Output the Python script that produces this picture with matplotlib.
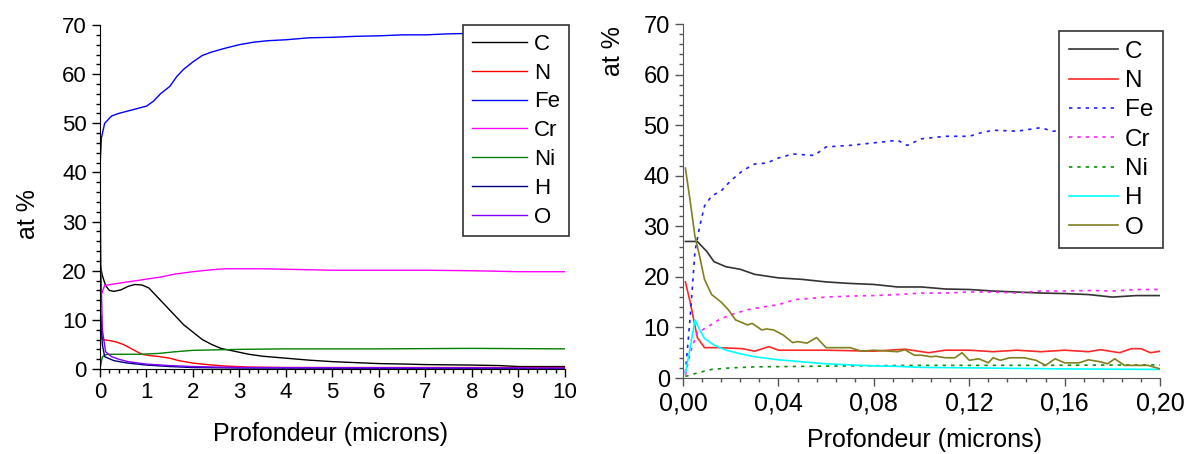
import matplotlib
matplotlib.use("Agg")
import matplotlib.pyplot as plt
from matplotlib.ticker import MultipleLocator, FuncFormatter

plt.rcParams['font.family'] = ['Liberation Sans', 'DejaVu Sans']

# ---- left panel: 0-10 microns ----
fe_x = [0.0, 0.03, 0.1, 0.25, 0.4, 0.6, 0.8, 1.0, 1.15, 1.3, 1.5, 1.65, 1.8, 2.0, 2.2, 2.4,
        2.7, 3.0, 3.3, 3.6, 4.0, 4.5, 5.0, 5.5, 6.0, 6.5, 7.0, 7.5, 8.0, 9.0, 10.0]
fe_y = [41, 47, 50, 51.5, 52, 52.5, 53, 53.5, 54.5, 56, 57.5, 59.5, 61, 62.5, 63.8, 64.5,
        65.3, 66, 66.5, 66.8, 67, 67.4, 67.5, 67.7, 67.8, 68, 68, 68.2, 68.3, 68.5, 68.6]

cr_x = [0.0, 0.02, 0.1, 0.3, 0.5, 0.8, 1.0, 1.3, 1.6, 2.0, 2.4, 2.7, 3.5, 4.0, 5.0, 6.0,
        7.0, 8.0, 9.0, 10.0]
cr_y = [10, 15, 17, 17.3, 17.6, 18, 18.3, 18.7, 19.3, 19.8, 20.2, 20.4, 20.4, 20.3, 20.1,
        20.1, 20.1, 20.0, 19.8, 19.8]

c_x = [0.0, 0.05, 0.12, 0.2, 0.3, 0.45, 0.6, 0.75, 0.9, 1.05, 1.2, 1.4, 1.6, 1.8, 2.0, 2.2,
       2.4, 2.6, 2.9, 3.2, 3.5, 4.0, 4.5, 5.0, 5.5, 6.0, 6.6, 7.0, 8.0, 8.6, 9.0, 10.0]
c_y = [21.5, 19, 17, 16, 15.8, 16.1, 16.8, 17.2, 17.1, 16.5, 15, 13, 11, 9, 7.5, 6,
       5, 4.2, 3.6, 3, 2.6, 2.2, 1.8, 1.5, 1.3, 1.1, 1.0, 0.9, 0.8, 0.7, 0.5, 0.5]

n_x = [0.0, 0.05, 0.2, 0.35, 0.5, 0.7, 0.9, 1.1, 1.3, 1.5, 1.7, 2.0, 2.3, 2.7, 3.2, 4.0, 10.0]
n_y = [8, 6, 5.8, 5.5, 5, 4, 3, 2.7, 2.5, 2.2, 1.7, 1.2, 0.9, 0.6, 0.4, 0.3, 0.3]

ni_x = [0.0, 0.05, 0.15, 0.9, 1.3, 1.6, 2.0, 2.5, 3.0, 4.0, 6.0, 8.0, 10.0]
ni_y = [0, 2.5, 3, 3, 3.2, 3.5, 3.8, 3.9, 4.0, 4.1, 4.1, 4.2, 4.1]

h_x = [0.0, 0.02, 0.05, 0.1, 0.3, 0.6, 1.0, 1.5, 2.0, 3.0, 10.0]
h_y = [4, 11, 5, 2.5, 1.7, 1.2, 0.8, 0.5, 0.3, 0.2, 0.1]

o_x = [0.0, 0.02, 0.05, 0.12, 0.25, 0.4, 0.6, 1.0, 1.5, 2.0, 3.0, 10.0]
o_y = [42, 20, 8, 3.5, 2.5, 2, 1.5, 1, 0.7, 0.5, 0.3, 0.2]

# ---- right panel: 0-0.20 microns ----
rc_x = [0.001, 0.006, 0.01, 0.013, 0.018, 0.024, 0.03, 0.04, 0.05, 0.06, 0.07, 0.08, 0.09,
        0.1, 0.11, 0.12, 0.13, 0.14, 0.15, 0.16, 0.17, 0.18, 0.19, 0.2]
rc_y = [27, 27, 25, 23, 22, 21.5, 20.5, 19.8, 19.5, 19, 18.7, 18.5, 18, 18, 17.6, 17.5,
        17.2, 17, 16.8, 16.7, 16.5, 16, 16.3, 16.3]

rn_x = [0.001, 0.003, 0.006, 0.009, 0.015, 0.025, 0.03, 0.036, 0.04, 0.06, 0.08, 0.093,
        0.103, 0.11, 0.12, 0.13, 0.14, 0.15, 0.16, 0.17, 0.175, 0.183, 0.188, 0.192, 0.196, 0.2]
rn_y = [19, 15, 8, 6, 6, 5.8, 5.3, 6.2, 5.5, 5.5, 5.3, 5.7, 5, 5.5, 5.5, 5.2, 5.5, 5.2,
        5.5, 5.2, 5.6, 5, 5.8, 5.8, 5, 5.3]

rfe_x = [0.001, 0.003, 0.005, 0.007, 0.009, 0.012, 0.016, 0.02, 0.025, 0.03, 0.035, 0.04,
         0.046, 0.055, 0.06, 0.07, 0.08, 0.09, 0.094, 0.1, 0.11, 0.12, 0.125, 0.13, 0.14,
         0.15, 0.155, 0.17, 0.2]
rfe_y = [1, 12, 25, 30, 34, 36, 37, 39, 41, 42.3, 42.5, 43.5, 44.3, 44, 45.7, 46, 46.5,
         47, 46, 47.3, 47.8, 47.8, 48.5, 49, 48.8, 49.5, 48.8, 49.5, 50]

rcr_x = [0.001, 0.003, 0.006, 0.01, 0.015, 0.02, 0.027, 0.033, 0.04, 0.047, 0.055, 0.06,
         0.07, 0.08, 0.09, 0.1, 0.11, 0.12, 0.13, 0.14, 0.15, 0.16, 0.17, 0.18, 0.19, 0.2]
rcr_y = [0.5, 5, 9, 10, 11.5, 12.5, 13.5, 14, 14.5, 15.5, 15.8, 16, 16.2, 16.3, 16.5, 16.8,
         16.8, 17, 17, 16.8, 17.2, 17.2, 17.3, 17.2, 17.5, 17.5]

rni_x = [0.001, 0.006, 0.012, 0.02, 0.03, 0.05, 0.07, 0.1, 0.15, 0.2]
rni_y = [0.3, 1, 1.7, 2, 2.2, 2.3, 2.4, 2.5, 2.5, 2.6]

rh_x = [0.001, 0.003, 0.005, 0.007, 0.009, 0.013, 0.018, 0.024, 0.03, 0.04, 0.05, 0.06,
        0.07, 0.08, 0.09, 0.1, 0.12, 0.14, 0.16, 0.2]
rh_y = [1, 6, 11.5, 9.5, 7.8, 6.5, 5.5, 4.8, 4.2, 3.6, 3.2, 2.8, 2.6, 2.4, 2.3, 2.1, 2,
        1.9, 1.8, 1.7]

ro_x = [0.001, 0.003, 0.005, 0.007, 0.009, 0.012, 0.016, 0.019, 0.022, 0.027, 0.029, 0.033,
        0.035, 0.038, 0.042, 0.046, 0.048, 0.052, 0.056, 0.06, 0.07, 0.075, 0.08, 0.09,
        0.093, 0.097, 0.1, 0.104, 0.106, 0.11, 0.114, 0.117, 0.12, 0.124, 0.128, 0.13,
        0.133, 0.137, 0.143, 0.148, 0.152, 0.156, 0.16, 0.166, 0.17, 0.175, 0.178, 0.181,
        0.185, 0.19, 0.195, 0.2]
ro_y = [41.5, 35, 28, 24, 19.5, 16.5, 15, 13.5, 11.5, 10.5, 10.8, 9.5, 9.7, 9.5, 8.5, 7,
        7.2, 6.9, 8, 6, 6, 5.3, 5.5, 5.2, 5.6, 4.5, 4.5, 4.2, 4.3, 4, 4, 5, 3.5, 3.8, 3,
        4, 3.5, 4, 4, 3.5, 2.5, 3.8, 3, 3, 3.6, 3.2, 2.8, 3.8, 2.5, 2.5, 2.5, 1.8]

fig = plt.figure(figsize=(11.92, 4.54), dpi=100)
ax1 = fig.add_axes([0.0839, 0.1872, 0.390, 0.7577])
ax2 = fig.add_axes([0.573, 0.1674, 0.4002, 0.7797])

lw = 1.0
ax1.plot(c_x, c_y, color='black', lw=lw, label='C')
ax1.plot(n_x, n_y, color='#ff0000', lw=lw, label='N')
ax1.plot(fe_x, fe_y, color='#0000ff', lw=lw, label='Fe')
ax1.plot(cr_x, cr_y, color='#ff00ff', lw=lw, label='Cr')
ax1.plot(ni_x, ni_y, color='#008000', lw=lw, label='Ni')
ax1.plot(h_x, h_y, color='#000080', lw=lw, label='H')
ax1.plot(o_x, o_y, color='#8000ff', lw=lw, label='O')

lw2 = 1.2
dots = (0, (2, 3))
ax2.plot(rc_x, rc_y, color='#333333', lw=lw2, label='C')
ax2.plot(rn_x, rn_y, color='#ff2828', lw=lw2, label='N')
ax2.plot(rfe_x, rfe_y, color='#2020ff', lw=lw2, ls=dots, label='Fe')
ax2.plot(rcr_x, rcr_y, color='#ff20ff', lw=lw2, ls=dots, label='Cr')
ax2.plot(rni_x, rni_y, color='#109010', lw=lw2, ls=dots, label='Ni')
ax2.plot(rh_x, rh_y, color='#00ffff', lw=lw2, label='H')
ax2.plot(ro_x, ro_y, color='#808020', lw=lw2, label='O')

for ax, fs in ((ax1, 16), (ax2, 17)):
    ax.set_ylim(0, 70)
    ax.spines['top'].set_visible(False)
    ax.spines['right'].set_visible(False)
    ax.yaxis.set_major_locator(MultipleLocator(10))
    ax.yaxis.set_minor_locator(MultipleLocator(2))
    ax.tick_params(which='major', direction='out', length=6, width=1, labelsize=fs)
    ax.tick_params(which='minor', direction='out', length=3, width=1)
    ax.set_ylabel('at %', fontsize=18)
    ax.set_xlabel('Profondeur (microns)', fontsize=18)

ax1.set_xlim(0, 10)
ax1.xaxis.set_major_locator(MultipleLocator(1))
ax1.xaxis.set_minor_locator(MultipleLocator(0.2))
ax2.set_xlim(0, 0.2)
ax2.xaxis.set_major_locator(MultipleLocator(0.04))
ax2.xaxis.set_minor_locator(MultipleLocator(0.008))
ax2.xaxis.set_major_formatter(FuncFormatter(lambda v, p: f"{v:.2f}".replace('.', ',')))
ax2.tick_params(axis='x', which='major', labelsize=18)
for s in ('left', 'bottom'):
    ax2.spines[s].set_color('#555555')
ax2.tick_params(which='both', color='#555555')

ax1.yaxis.set_label_coords(-0.13, 0.45)
ax1.xaxis.set_label_coords(0.495, -0.155)
ax2.yaxis.set_label_coords(-0.122, 0.925)
ax2.xaxis.set_label_coords(0.507, -0.14)

leg_kw = dict(loc='upper right', frameon=True, fancybox=False, handletextpad=0.3,
              borderpad=0.4, borderaxespad=0)
leg1 = ax1.legend(bbox_to_anchor=(1.0086, 1.0), fontsize=16, handlelength=2.5,
                  labelspacing=0.35, **leg_kw)
leg2 = ax2.legend(bbox_to_anchor=(1.006, 0.980), fontsize=17.5, handlelength=2.0,
                  labelspacing=0.3, **leg_kw)
for leg in (leg1, leg2):
    leg.get_frame().set_edgecolor('#333333')
    leg.get_frame().set_linewidth(1.2)
    leg.get_frame().set_alpha(1)

fig.savefig('out.png', dpi=100)
